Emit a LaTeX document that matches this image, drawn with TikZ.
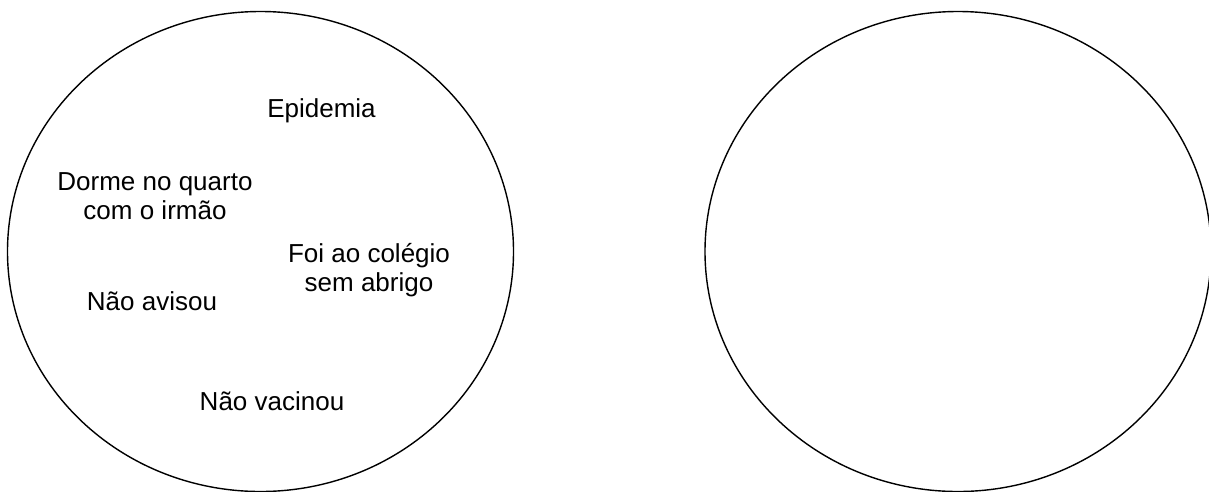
\documentclass[tikz,border=0pt]{standalone}
\usepackage{fontspec}
\setmainfont{Liberation Sans}
\begin{document}
\begin{tikzpicture}[x=1pt,y=1pt,
  setbox/.style={draw=black,line width=1.4pt},
  lbl/.style={font=\fontsize{26}{29}\selectfont,inner sep=0pt,anchor=base,align=center}]
\useasboundingbox (0,0) rectangle (1209,-491);
\draw[setbox] (260.5,-251.5) ellipse [x radius=253, y radius=240];
\draw[setbox] (958,-251.5) ellipse [x radius=253, y radius=240];
\node[lbl] (epi) at (321.5,-117) {Epidemia};
\node[lbl] (dorme) at (155,-219) {Dorme no quarto\\com o irmão};
\node[lbl] (foi) at (369,-291) {Foi ao colégio\\sem abrigo};
\node[lbl] (avisou) at (152,-310) {Não avisou};
\node[lbl] (vacinou) at (272,-410) {Não vacinou};
\end{tikzpicture}
\end{document}
